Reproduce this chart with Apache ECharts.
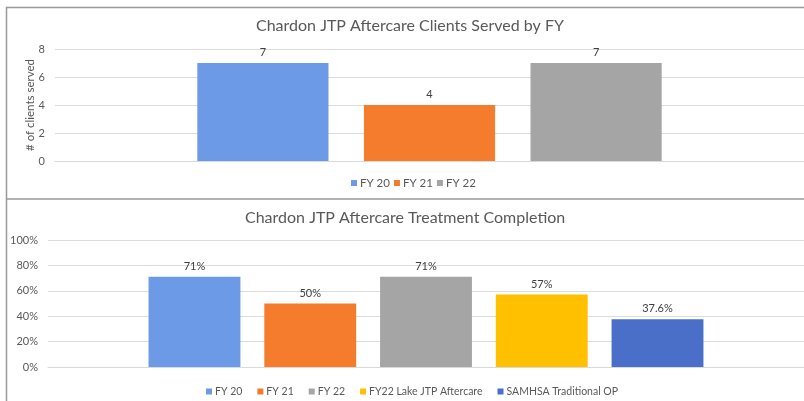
<!DOCTYPE html>
<html>
<head>
<meta charset="utf-8">
<script src="https://cdn.jsdelivr.net/npm/echarts@6/dist/echarts.min.js"></script>
<style>
html,body{margin:0;padding:0;background:#fff;}
#c{width:804px;height:401px;}
</style>
</head>
<body>
<div id="c"></div>
<script>
// Top chart data
const topTitle = 'Chardon JTP Aftercare Clients Served by FY';
const topSeriesNames = ['FY 20', 'FY 21', 'FY 22'];
const topValues = [7, 4, 7];
const topYAxisName = '# of clients served';

// Bottom chart data
const bottomTitle = 'Chardon JTP Aftercare Treatment Completion';
const bottomSeriesNames = ['FY 20', 'FY 21', 'FY 22', 'FY22 Lake JTP Aftercare', 'SAMHSA Traditional OP'];
const bottomValues = [71, 50, 71, 57, 37.6];
const bottomLabels = ['71%', '50%', '71%', '57%', '37.6%'];

const colors = ['#6d9ae6', '#f57c2c', '#a5a5a5', '#ffc000', '#4a6fc9'];
const FONT = 'Lato';
const txt = '#595959';

const chart = echarts.init(document.getElementById('c'), null, {renderer: 'canvas'});

const series = [];
topSeriesNames.forEach((n, i) => {
  series.push({
    name: n, type: 'bar', xAxisIndex: 0, yAxisIndex: 0,
    data: [topValues[i]],
    itemStyle: {color: colors[i]},
    barGap: '27%', barCategoryGap: '38%',
    label: {show: true, position: 'top', distance: 5, color: '#404040', fontSize: 11, fontFamily: FONT},
    emphasis: {disabled: true}
  });
});
bottomSeriesNames.forEach((n, i) => {
  series.push({
    name: n, type: 'bar', xAxisIndex: 1, yAxisIndex: 1,
    data: [bottomValues[i]],
    itemStyle: {color: colors[i]},
    barGap: '26%', barCategoryGap: '26.6%',
    label: {show: true, position: 'top', distance: 5, color: '#404040', fontSize: 11, fontFamily: FONT,
      formatter: () => bottomLabels[i]},
    emphasis: {disabled: true}
  });
});

chart.setOption({
  animation: false,
  backgroundColor: '#fff',
  title: [
    {text: topTitle, left: 256, top: 18, padding: 0,
      textStyle: {fontFamily: FONT, fontSize: 16, fontWeight: 'normal', color: txt}},
    {text: bottomTitle, left: 245, top: 210, padding: 0,
      textStyle: {fontFamily: FONT, fontSize: 16, fontWeight: 'normal', color: txt}}
  ],
  legend: [
    {data: topSeriesNames, left: 351, top: 177, padding: 0, itemGap: 4,
      icon: 'rect', itemWidth: 6, itemHeight: 6, selectedMode: false,
      textStyle: {color: txt, fontSize: 11.5, fontFamily: FONT, padding: [0, 0, 0, -2]}},
    {data: bottomSeriesNames, left: 206, top: 386, padding: 0, itemGap: 15,
      icon: 'rect', itemWidth: 6, itemHeight: 6, selectedMode: false,
      textStyle: {color: txt, fontSize: 10.5, fontFamily: FONT, padding: [0, 0, 0, -2]}}
  ],
  grid: [
    {left: 55, right: -1, top: 49, height: 112},
    {left: 48, right: -1, top: 240, height: 127}
  ],
  xAxis: [
    {type: 'category', gridIndex: 0, data: [''], axisTick: {show: false}, axisLabel: {show: false},
      axisLine: {lineStyle: {color: '#d9d9d9'}}},
    {type: 'category', gridIndex: 1, data: [''], axisTick: {show: false}, axisLabel: {show: false},
      axisLine: {lineStyle: {color: '#d9d9d9'}}}
  ],
  yAxis: [
    {type: 'value', gridIndex: 0, min: 0, max: 8, interval: 2,
      name: topYAxisName, nameLocation: 'middle', nameGap: 19, nameRotate: 90, nameMoveOverlap: false,
      nameTextStyle: {color: txt, fontSize: 11.5, fontFamily: FONT},
      axisLabel: {color: txt, fontSize: 11, fontFamily: FONT, margin: 10},
      axisLine: {show: false}, axisTick: {show: false},
      splitLine: {lineStyle: {color: '#dcdcdc'}}},
    {type: 'value', gridIndex: 1, min: 0, max: 100, interval: 20,
      axisLabel: {color: txt, fontSize: 11, fontFamily: FONT, margin: 10, formatter: '{value}%'},
      axisLine: {show: false}, axisTick: {show: false},
      splitLine: {lineStyle: {color: '#dcdcdc'}}}
  ],
  graphic: [
    {type: 'line', shape: {x1: 6, y1: 7.5, x2: 804, y2: 7.5}, style: {stroke: '#999', lineWidth: 1.5}, silent: true},
    {type: 'line', shape: {x1: 6.5, y1: 7, x2: 6.5, y2: 401}, style: {stroke: '#999', lineWidth: 1.5}, silent: true},
    {type: 'line', shape: {x1: 6, y1: 199, x2: 804, y2: 199}, style: {stroke: '#999', lineWidth: 1.5}, silent: true}
  ],
  series: series
});
</script>
</body>
</html>
